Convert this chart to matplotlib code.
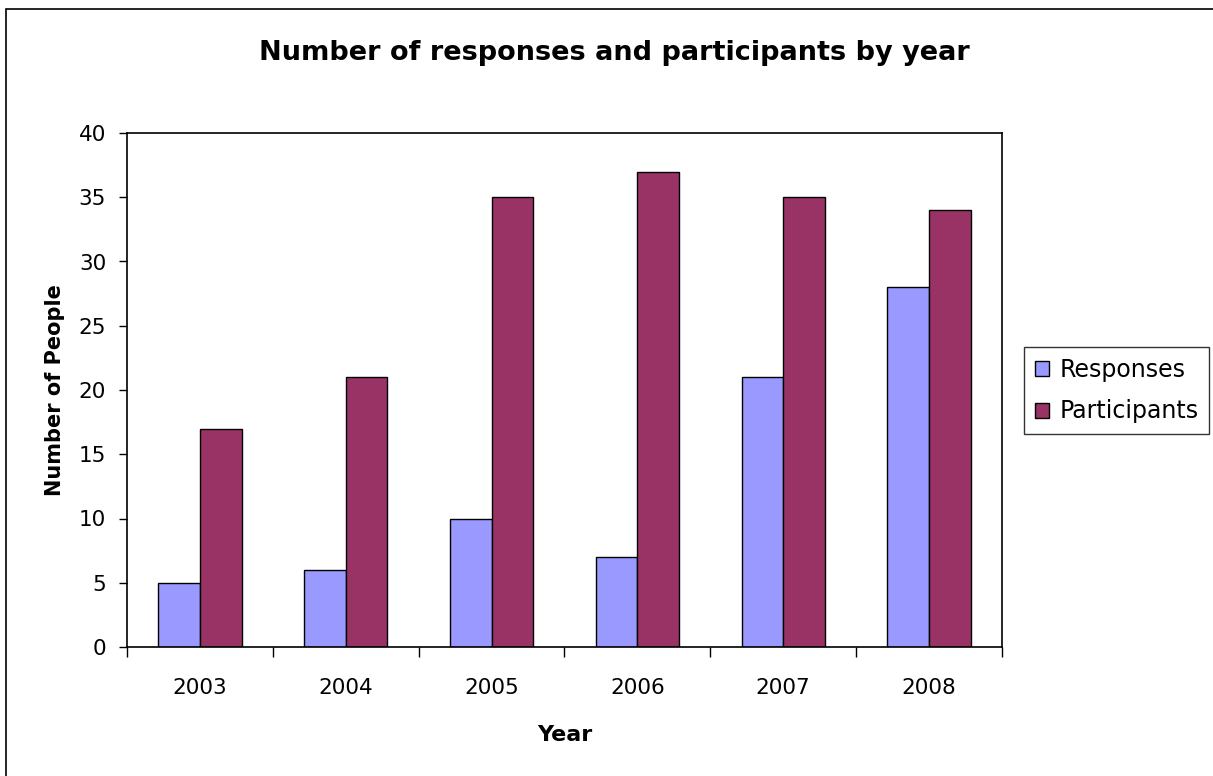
import matplotlib
matplotlib.use("Agg")
import matplotlib.pyplot as plt
from matplotlib.patches import Rectangle
import numpy as np

years = ["2003", "2004", "2005", "2006", "2007", "2008"]
responses = [5, 6, 10, 7, 21, 28]
participants = [17, 21, 35, 37, 35, 34]
yticks = [0, 5, 10, 15, 20, 25, 30, 35, 40]

plt.rcParams['font.family'] = ['DejaVu Sans']

W, H = 1213, 776
fig = plt.figure(figsize=(W/100, H/100), dpi=100)
fig.patch.set_facecolor('white')

# outer chart border (extends past right and bottom edges)
fig.patches.append(Rectangle((6/W, -0.1), 1.2, 1 - 9/H + 0.1, transform=fig.transFigure,
                             fill=False, edgecolor='black', linewidth=1.2, clip_on=False))

ax = fig.add_axes([127/W, 1 - 647/H, (1002-127)/W, (647-133)/H])
x = np.arange(len(years))
bw = 1/3.5
ax.bar(x - bw/2, responses, bw, color='#9999FF', edgecolor='black', linewidth=1.0, label='Responses')
ax.bar(x + bw/2, participants, bw, color='#993366', edgecolor='black', linewidth=1.0, label='Participants')

ax.set_xlim(-0.5, len(years) - 0.5)
ax.set_ylim(0, 40)
ax.set_yticks(yticks)
ax.set_yticklabels([str(v) for v in yticks], fontsize=15.5)
ax.set_xticks(x)
ax.set_xticklabels(years, fontsize=15.5)
ax.tick_params(axis='x', length=0, pad=22)
ax.set_xticks(np.arange(-0.5, len(years), 1), minor=True)
ax.tick_params(axis='x', which='minor', length=7, width=1, direction='out')
ax.tick_params(axis='y', length=6, width=1, direction='out', pad=9)
for s in ax.spines.values():
    s.set_linewidth(1.2)

ax.set_xlabel('Year', fontsize=16, fontweight='bold', labelpad=20)
ax.set_ylabel('Number of People', fontsize=15, fontweight='bold', labelpad=10)
fig.text(614/W, 1 - 53/H, 'Number of responses and participants by year', ha='center', va='center',
         fontsize=19.5, fontweight='bold')

leg = ax.legend(loc='upper left', bbox_to_anchor=(1024/W, 1 - 347/H), bbox_transform=fig.transFigure,
                fontsize=17, frameon=True, fancybox=False, edgecolor='black', borderpad=0.45,
                handlelength=0.6, handleheight=0.6, handletextpad=0.45, labelspacing=0.75, borderaxespad=0)
leg.get_frame().set_linewidth(1.0)

fig.savefig('out.png', dpi=100)
